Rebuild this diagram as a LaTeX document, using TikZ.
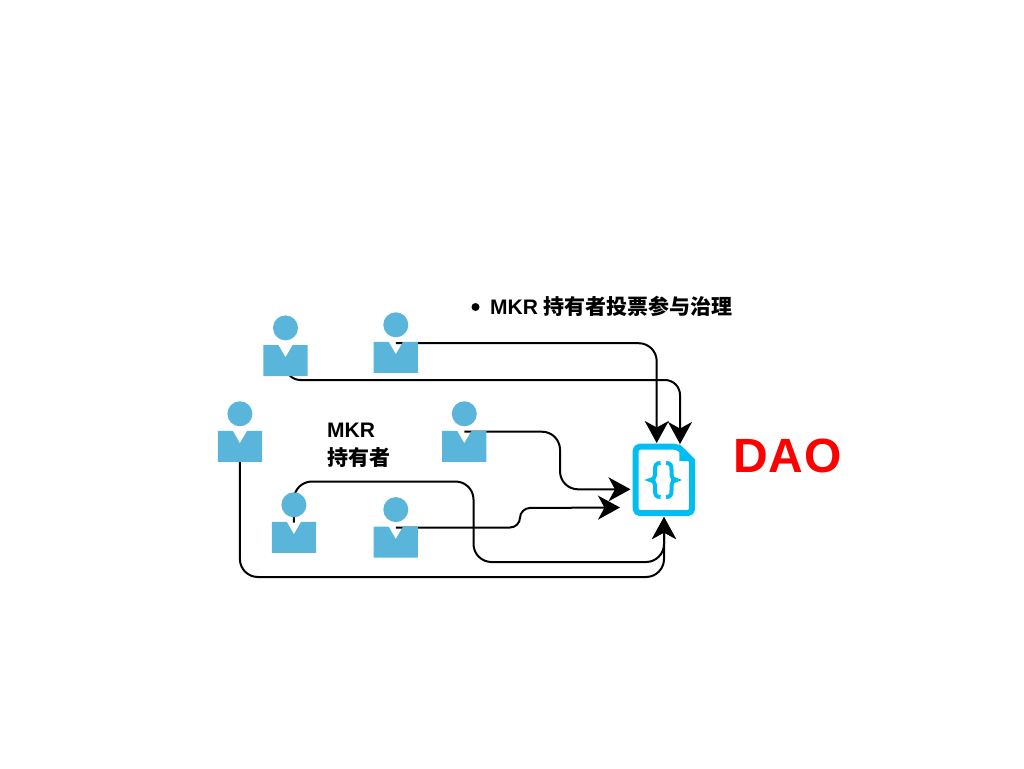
\documentclass[tikz,border=0pt]{standalone}
\usepackage{fontspec}
\setmainfont{Liberation Sans}
\newfontfamily\cjk{Noto Sans CJK SC}
\usetikzlibrary{arrows.meta}
\usetikzlibrary{positioning}
\usetikzlibrary{backgrounds}
\definecolor{personblue}{HTML}{5AB5DB}
\definecolor{docblue}{HTML}{00BEF2}
\tikzset{
  person/.style={rectangle, inner sep=0pt, minimum width=44.3pt, minimum height=31pt,
    path picture={\fill[personblue] (path picture bounding box.north west) -- ++(15pt,0pt)
      -- ++(7.15pt,-12.3pt) -- ++(7.15pt,12.3pt) -- (path picture bounding box.north east)
      -- (path picture bounding box.south east) -- (path picture bounding box.south west) -- cycle;}},
  head/.style={circle, fill=personblue, inner sep=0pt, minimum size=25pt},
  label/.style={inner sep=0pt, anchor=west, align=left, font=\bfseries\fontsize{21}{28}\selectfont},
  conn/.style={line width=2pt, rounded corners=18pt, -{Stealth[length=22pt, width=24pt, inset=6.5pt]}},
}
\begin{document}
\begin{tikzpicture}[x=1pt, y=-1pt]
\useasboundingbox (0,0) rectangle (1024,768);
\node [person, name=p1] at (285.5,360.5){};
\node [person, name=p2] at (395.8,357.4){};
\node [person, name=p3] at (239.9,446.4){};
\node [person, name=p4] at (293.9,537.4){};
\node [person, name=p5] at (395.8,542.2){};
\node [person, name=p6] at (464.3,446.4){};
\node [head, above=4.2pt of p1, name=h1]{};
\node [head, above=4.2pt of p2, name=h2]{};
\node [head, above=4.2pt of p3, name=h3]{};
\node [head, above=4.2pt of p4, name=h4]{};
\node [head, above=4.2pt of p5, name=h5]{};
\node [head, above=4.2pt of p6, name=h6]{};
\node [inner sep=0pt, minimum width=62.3pt, minimum height=72.3pt, name=doc] at (663.9,479.9){};
%the sheet and its fold
\draw [docblue, line width=6pt, line join=round, rounded corners=4pt] (635.7,446.7) -- (678,446.7) [sharp corners] -- (692,460.5) [rounded corners=4pt] -- (692,513) -- (635.7,513) -- cycle;
\fill [docblue] (679.3,444) -- (695,459.5) -- (695,461) -- (679.3,461) -- cycle;
%the braces
\draw [docblue, line width=4pt] (660.5,463) .. controls (656,463) and (655,465) .. (655,470) -- (655,475) .. controls (655,478) and (653,480) .. (650,480) .. controls (653,480) and (655,482) .. (655,485) -- (655,490) .. controls (655,495) and (656,497) .. (660.5,497);
\draw [docblue, line width=4pt] (666,463) .. controls (670.5,463) and (671.5,465) .. (671.5,470) -- (671.5,475) .. controls (671.5,478) and (673.5,480) .. (676.5,480) .. controls (673.5,480) and (671.5,482) .. (671.5,485) -- (671.5,490) .. controls (671.5,495) and (670.5,497) .. (666,497);
\coordinate (t1) at (656.7,443);
\coordinate (t2) at (680,444);
\coordinate (t3) at (630.5,489.3);
\coordinate (t4) at (620,507.5);
\coordinate (t5) at (664,517);
\begin{scope}[on background layer]
\draw [conn]([yshift=-1.5pt]p2.north) -| (t1);
\draw [conn, rounded corners=15pt](p1.center) |- (680,380) -- (t2);
\draw [conn](p3.center) |- (664,577) -- (t5);
\draw [conn]([yshift=-1pt]p4.north) |- (473.5,481.5) |- (664,562) -- (t5);
\draw [conn, rounded corners=10pt]([yshift=-1pt]p5.north) -| (520,508) -- (t4);
\draw [conn]([yshift=-1pt]p6.north) -| (560,489.3) -- (t3);
\end{scope}
\node [label, name=holder] at (327,445.5){MKR\\{\cjk 持有者}};
\node [circle, fill=black, inner sep=0pt, minimum size=8pt, name=dot] at (475.5,307){};
\node [label, name=vote] at (490,306){MKR {\cjk 持有者投票参与治理}};
\node [inner sep=0pt, anchor=west, text=red, font=\bfseries\fontsize{48}{48}\selectfont\addfontfeature{Kerning=Off,LetterSpace=2}, name=dao] at (733,455.5){DAO};
\end{tikzpicture}
\end{document}
